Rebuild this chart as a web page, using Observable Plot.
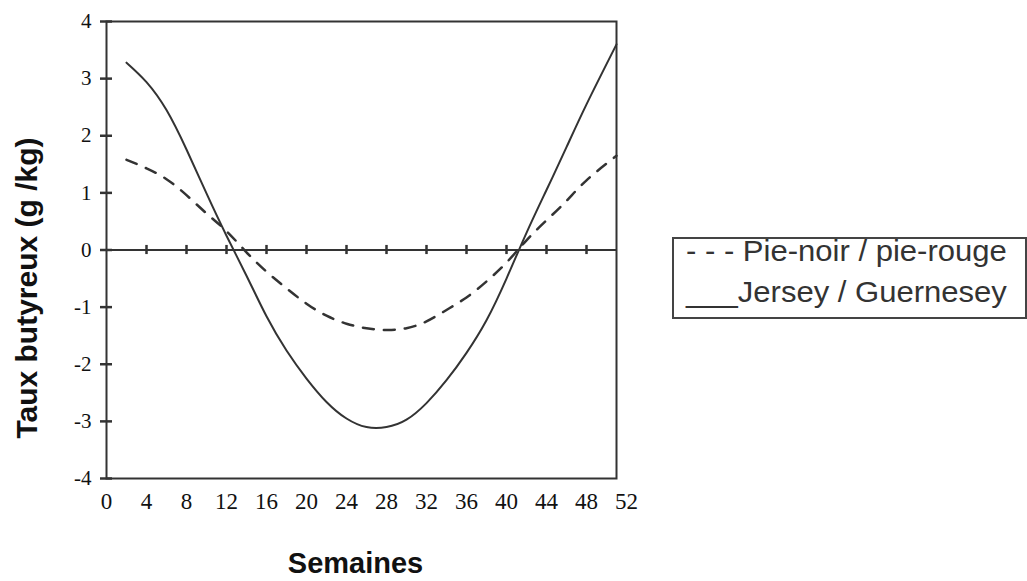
<!DOCTYPE html>
<html>
<head>
<meta charset="utf-8">
<script src="https://cdn.jsdelivr.net/npm/d3@7"></script>
<script src="https://cdn.jsdelivr.net/npm/@observablehq/plot@0.6"></script>
<style>
  html, body { margin: 0; padding: 0; background: #fff; }
  #wrap { position: relative; width: 1027px; height: 581px; }
  #legend {
    position: absolute; left: 672px; top: 237px; width: 351px; height: 78px;
    border: 2px solid #444; box-sizing: content-box;
    font-family: "Liberation Sans", Arial, sans-serif; font-size: 29px; color: #333;
  }
  #legend div { position: absolute; left: 12px; white-space: nowrap; transform-origin: left center; transform: scaleX(1.07); }
  #chart svg g[aria-label$="tick label"] text { font-family: "Liberation Serif", "DejaVu Serif", serif; }
</style>
</head>
<body>
<div id="wrap"><div id="chart"></div><div id="legend"></div></div>
<script>
const weeks = [2, 4, 6, 8, 10, 12, 14, 16, 18, 20, 22, 24, 26, 28, 30, 32, 34, 36, 38, 40, 42, 44, 46, 48, 51];
// Jersey / Guernesey (solid line), g/kg
const jersey = [3.28, 2.94, 2.45, 1.76, 0.99, 0.25, -0.45, -1.16, -1.76, -2.25, -2.66, -2.95, -3.1, -3.1, -2.97, -2.68, -2.28, -1.8, -1.23, -0.5, 0.3, 1.05, 1.8, 2.55, 3.6];
// Pie-noir / pie-rouge (dashed line), g/kg
const pieNoir = [1.58, 1.43, 1.24, 0.96, 0.64, 0.33, -0.04, -0.38, -0.67, -0.94, -1.15, -1.29, -1.37, -1.4, -1.37, -1.25, -1.05, -0.83, -0.55, -0.22, 0.17, 0.52, 0.86, 1.22, 1.65];
const xTickValues = [0, 4, 8, 12, 16, 20, 24, 28, 32, 36, 40, 44, 48, 52];
const yTickValues = [-4, -3, -2, -1, 0, 1, 2, 3, 4];
const legendLabels = ["- - - Pie-noir / pie-rouge", "___Jersey / Guernesey"];
const xTitle = "Semaines";
const yTitle = "Taux butyreux (g /kg)";

const jerseyRows = weeks.map((w, i) => ({week: w, value: jersey[i]}));
const pieRows = weeks.map((w, i) => ({week: w, value: pieNoir[i]}));
const zeroTicks = xTickValues.filter(d => d > 0 && d < 51);

const ink = "#333";
const serif = "'Liberation Serif', 'DejaVu Serif', serif";
const sans = "'Liberation Sans', Arial, sans-serif";

function draw() {
  const chart = Plot.plot({
    width: 1027, height: 581,
    marginLeft: 106, marginRight: 411, marginTop: 21, marginBottom: 103,
    style: {background: "white", color: ink},
    x: {domain: [0, 51]},
    y: {domain: [-4, 4]},
    marks: [
      Plot.axisX({ticks: xTickValues, tickSize: 0, tickPadding: 14, tickFormat: d => String(d),
        fontFamily: serif, fontSize: 23, fill: "#111", label: null}),
      Plot.axisY({ticks: yTickValues, tickSize: 0, tickPadding: 15, tickFormat: d => String(d),
        fontFamily: serif, fontSize: 21, fill: "#111", label: null}),
      Plot.frame({stroke: ink, strokeWidth: 2}),
      Plot.ruleY([0], {stroke: ink, strokeWidth: 2}),
      Plot.ruleX(zeroTicks, {y1: -0.08, y2: 0.08, stroke: ink, strokeWidth: 2.5}),
      Plot.ruleY(yTickValues, {x1: -0.6, x2: 0.6, stroke: ink, strokeWidth: 2.5}),
      Plot.line(pieRows, {x: "week", y: "value", curve: "natural", stroke: ink, strokeWidth: 2.5, strokeDasharray: "11,10"}),
      Plot.line(jerseyRows, {x: "week", y: "value", curve: "natural", stroke: ink, strokeWidth: 2}),
      Plot.text([xTitle], {frameAnchor: "bottom", dy: 85, dx: -6, lineAnchor: "middle", fontFamily: sans,
        fontSize: 29, fontWeight: "bold", fill: "#111"}),
      Plot.text([yTitle], {frameAnchor: "left", dx: -79, dy: 38, rotate: -90, textAnchor: "middle", lineAnchor: "middle",
        fontFamily: sans, fontSize: 30, fontWeight: "bold", fill: "#111"})
    ]
  });
  const holder = document.getElementById("chart");
  holder.replaceChildren(chart);
  // force a style/layout pass so the serif face is resolved
  chart.querySelectorAll("text").forEach(t => getComputedStyle(t).fontFamily);
}

draw();
const legend = document.getElementById("legend");
legendLabels.forEach((t, i) => {
  const d = document.createElement("div");
  d.textContent = t;
  d.style.top = (i === 0 ? -4 : 37) + "px";
  legend.appendChild(d);
});
document.fonts.check("23px 'Liberation Serif'");
if (document.fonts && document.fonts.load) {
  Promise.all([
    document.fonts.load("23px 'Liberation Serif'", "0123456789-"),
    document.fonts.load("bold 30px 'Liberation Sans'", "Semaines")
  ]).then(draw).catch(() => {});
}
</script>
</body>
</html>
